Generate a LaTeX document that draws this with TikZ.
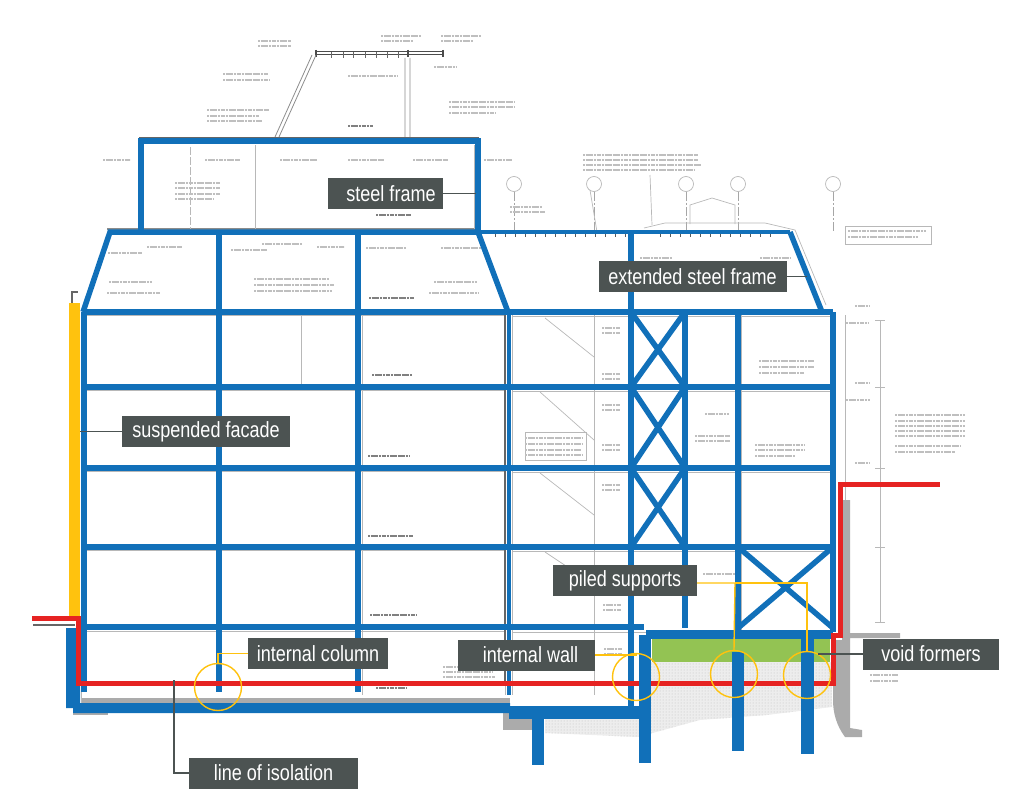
\documentclass[tikz,border=0pt]{standalone}
\usepackage{fontspec}
\setmainfont{Liberation Sans}[FakeStretch=0.82]
\usetikzlibrary{patterns}
\definecolor{frameblue}{HTML}{1170B9}
\definecolor{isored}{HTML}{E62322}
\definecolor{ringyellow}{HTML}{FFC20E}
\definecolor{voidgreen}{HTML}{93C353}
\definecolor{labelgrey}{HTML}{4C5352}
\definecolor{wallgrey}{HTML}{ABABAB}
\tikzset{
  labelbox/.style={fill=labelgrey, text=white, minimum height=31, inner sep=0pt, font=\fontsize{22}{26}\selectfont},
  ring/.style={circle, draw=ringyellow, line width=1.4pt, minimum size=47, inner sep=0pt},
  ringline/.style={draw=ringyellow, line width=1.4pt},
  leader/.style={draw=labelgrey, line width=1.4pt},
  frame/.style={draw=frameblue, line width=5.5pt},
  thinframe/.style={draw=frameblue, line width=3.5pt},
  isoline/.style={draw=isored, line width=5pt, line join=miter},
  noteline/.style={draw=black!25, line width=1.1pt, dash pattern=on 2.2pt off .5pt},
  darknote/.style={draw=black!50, line width=1.3pt, dash pattern=on 2.2pt off .5pt},
  sketchline/.style={draw=black!28, line width=.7pt},
  gridline/.style={draw=black!35, line width=.6pt, dash pattern=on 9pt off 2pt on 2pt off 2pt},
}
\begin{document}
\begin{tikzpicture}[x=1pt,y=-1pt]
\useasboundingbox (0,0) rectangle (1024,805);

% drawing underneath
\fill[wallgrey] (842,500) -- (850,500) -- (850,633) -- (900,633) -- (900,638) -- (850,638) -- (850,728) -- (862,730) -- (862,737) -- (845,737) .. controls (836,725) and (833,712) .. (833,700) -- (833,640) -- (842,640) -- cycle;
\fill[wallgrey] (81,698) rectangle (510,703);
\fill[wallgrey] (503,706) rectangle (532,730);
\fill[wallgrey] (73,713) rectangle (108,715);
\fill[black!7] (651,662) -- (832,662) -- (832,707) -- (767,715) -- (700,720) -- (638,737) -- (545,733) -- (545,719) -- (651,719) -- cycle;
\fill[pattern=dots, pattern color=black!25] (651,662) -- (832,662) -- (832,707) -- (767,715) -- (700,720) -- (638,737) -- (545,733) -- (545,719) -- (651,719) -- cycle;

\foreach \fy in {315,390,471,550,631}
  \draw[sketchline, line width=1pt] (86,\fy) -- (505,\fy);
\foreach \fy in {316,391,472,551,632}
  \draw[sketchline] (512,\fy) -- (832,\fy);
\foreach \wx in {362,505,512,594,741}
  \draw[sketchline] (\wx,314) -- (\wx,695);
\draw[black!60, line width=2pt] (505,314) -- (505,682);
\draw[sketchline] (301,315) -- (301,385);
\draw[sketchline] (845,315) -- (845,500) (880,320) -- (880,622) (875,320) -- (885,320) (875,387) -- (885,387) (875,468) -- (885,468) (875,547) -- (885,547) (875,622) -- (885,622);
\draw[sketchline] (545,318) -- (594,357) (540,392) -- (594,440) (540,473) -- (594,515) (545,552) -- (572,570);
\draw[sketchline] (81,703) -- (81,632) (845,226) rectangle (931,244);
\draw[sketchline] (525,432) rectangle (586,460);

% top of the section
\draw[black!70, line width=1pt] (317,52) -- (444,52) (317,55) -- (444,55);
\draw[black!70, line width=2.5pt] (316,50) -- (316,57) (408,50) -- (408,57) (443,50) -- (443,57);
\foreach \tx in {331,343,353,365,376,387,398}
  \draw[black!60, line width=.8pt] (\tx,52) -- (\tx,58);
\draw[black!45, line width=.8pt] (312,55) -- (275,137) (316,55) -- (279,137) (405,58) -- (405,137) (410,58) -- (410,137);
\draw[black!60, line width=1pt] (139,138) -- (479,138);
\draw[black!45, line width=1.5pt] (107,229) -- (478,229);
\draw[sketchline] (255,145) -- (255,229);
\draw[sketchline, dash pattern=on 8pt off 2pt] (190,147) -- (190,229);
\draw[sketchline] (474,145) -- (474,229);

% column grid
\foreach \gx/\gn in {514/a,594/b,686/c,738/d,833/e} {
  \node[circle, draw=black!28, line width=.7pt, minimum size=15, inner sep=0pt] (grid\gn) at (\gx,184) {};
  \draw[gridline] (grid\gn) -- (\gx,232);
}
\draw[sketchline] (644,228) -- (665,223) -- (765,223) -- (795,230) -- (826,305);
\draw[sketchline] (690,224) -- (690,205) -- (712,198) -- (735,205) -- (735,224);
\draw[sketchline] (590,190) -- (597,232) (650,175) -- (652,225);
\foreach \tx in {495,505,515,525,535,545,555,565,575,585,595,605,615,625,660,670,680,690,700,710,720,730,740,750,760,770}
  \draw[black!65, line width=.8pt] (\tx,234) -- (\tx,237);

% small notes of the drawing
\foreach \nx/\ny/\nw in {258/41/33,258/46/33,381/36/40,381/41/32,441/36/40,441/41/32,434/67/22,348/76/50,223/74/45,223/80/47,207/110/62,207/116/52,207/121/55,449/102/65,449/107/65,449/113/47,103/160/27,205/160/35,280/160/37,348/160/36,413/160/35,484/160/28,175/183/45,175/188/45,175/194/45,175/199/38,108/253/34,147/247/35,231/250/36,262/244/40,317/247/27,366/248/40,441/248/40,109/282/43,107/293/53,254/279/75,254/285/80,254/291/78,434/282/43,429/293/50,583/155/115,583/160/115,583/165/118,583/170/112,510/207/32,510/212/35,848/231/78,848/237/70,640/258/32,760/258/30,759/361/55,759/367/55,759/373/45,602/328/18,602/333/18,602/374/18,602/379/18,602/405/18,602/410/18,602/445/18,602/450/18,602/485/18,602/490/18,705/414/24,695/436/35,695/441/35,755/445/50,755/450/50,755/456/40,525/438/58,525/444/58,525/450/56,525/455/58,895/415/70,895/421/70,895/426/70,895/431/70,895/436/70,895/446/65,895/452/60,846/323/22,846/400/24,855/306/14,855/383/14,855/463/14,443/667/50,443/672/50,443/677/52,703/574/32,603/605/18,603/610/18,604/649/18,604/654/18,870/675/28,870/681/28}
  \draw[noteline] (\nx,\ny) -- ++(\nw,0);
\foreach \nx/\ny/\nw in {348/126/25,376/215/35,369/298/45,372/375/40,368/456/42,368/536/45,370/615/46,376/688/30}
  \draw[darknote] (\nx,\ny) -- ++(\nw,0);

% fill of the void and facade
\fill[voidgreen] (652,639) rectangle (830,662);
\fill[ringyellow] (69,303) rectangle (80,618);
\draw[black!60, line width=1.5pt] (72,303) -- (72,292) -- (78,292);

% steel frame
\draw[frame] (141,232) -- (141,141) -- (478,141) -- (478,232);
\draw[frame] (83,312) -- (110,232) -- (478,232) -- (508,312);
\draw[thinframe] (478,232) -- (790,232);
\draw[frame] (790,232) -- (822,312);
\foreach \cx in {219,358}
  \draw[frame] (\cx,232) -- (\cx,692);
\draw[frame] (84,312) -- (84,692);
\draw[thinframe] (509,312) -- (509,695);
\draw[frame] (631,232) -- (631,706);
\draw[frame] (685,312) -- (685,628);
\draw[frame] (738,312) -- (738,634);
\draw[frame] (833,312) -- (833,632);
\foreach \fy in {312,387,468,547}
  \draw[frame] (84,\fy) -- (833,\fy);
\draw[frame] (84,627) -- (644,627);
\foreach \ya/\yb in {312/387,387/468,468/547}
  \draw[frame] (631,\ya) -- (685,\yb) (685,\ya) -- (631,\yb);
\draw[frame] (738,547) -- (833,628) (833,547) -- (738,628);
\draw[draw=frameblue, line width=9pt] (646,634.5) -- (833,634.5);
\fill[frameblue] (66,628) rectangle (80,708) (73,703) rectangle (510,713);
\fill[frameblue] (509,706) rectangle (651,719);

% line of isolation
\draw[isoline] (32,618) -- (78,618) -- (78,683) -- (833,683) -- (833,635) -- (840,635) -- (840,484) -- (940,484);
\draw[black!60, line width=1.5pt] (33,625) -- (75,625);

% piles
\fill[frameblue] (639,635) rectangle (651,763);
\fill[frameblue] (532,719) rectangle (544,765);
\fill[frameblue] (732,652) rectangle (744,751);
\fill[frameblue] (801,639) rectangle (814,754);

% rings and labels
\node[ring] (colRing) at (218,687) {};
\node[ring] (wallRing) at (636,677) {};
\node[ring] (pileRingA) at (734,674) {};
\node[ring] (pileRingB) at (807,675) {};

\node[labelbox, minimum width=115] (steelLabel) at (385.5,193.5) {\hspace*{11pt}steel frame};
\node[labelbox, minimum width=188] (extLabel) at (692.5,276.5) {extended steel frame};
\node[labelbox, minimum width=168] (facadeLabel) at (206,431.5) {suspended facade};
\node[labelbox, minimum width=144] (pileLabel) at (625,580.5) {piled supports};
\node[labelbox, minimum width=140] (colLabel) at (318,653.5) {internal column};
\node[labelbox, minimum width=137] (wallLabel) at (526.5,655) {\hspace*{8pt}internal wall};
\node[labelbox, minimum width=136] (voidLabel) at (931,654) {void formers};
\node[labelbox, minimum width=169] (isoLabel) at (273.5,773) {line of isolation};

\coordinate (steelEnd) at (476,193.5);
\coordinate (extEnd) at (807,276.5);
\coordinate (facadeEnd) at (80,431.5);
\coordinate (voidEnd) at (818,654);
\coordinate (isoEnd) at (174,680);
\coordinate (pileJoin) at (735,583);

\draw[leader] (steelLabel) -- (steelEnd);
\draw[leader] (extLabel) -- (extEnd);
\draw[leader] (facadeLabel) -- (facadeEnd);
\draw[leader] (voidLabel) -- (voidEnd);
\draw[leader] (isoLabel.west) -| (isoEnd);
\draw[ringline] (colLabel.west) -| (colRing.north);
\draw[ringline] (wallLabel.east) -| (wallRing.north);
\draw[ringline] (pileLabel.east |- pileJoin) -- (pileJoin) -- (pileRingA.north);
\draw[ringline] (pileJoin) -| (pileRingB.north);
\end{tikzpicture}
\end{document}
